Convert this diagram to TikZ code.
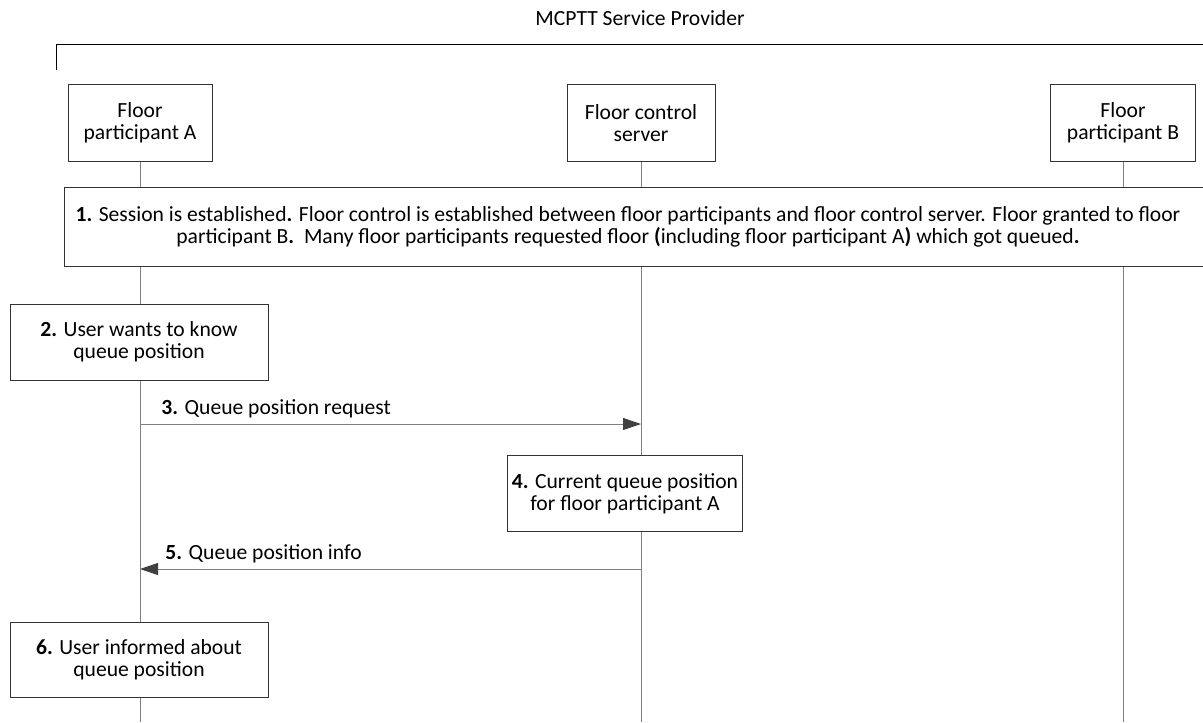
\documentclass[tikz,border=0pt]{standalone}
\usepackage{fontspec}
\setmainfont{Carlito}
\usetikzlibrary{positioning,arrows.meta,backgrounds,calc}
\definecolor{lifegray}{HTML}{808080}
\definecolor{tipgray}{HTML}{404040}
\tikzset{
  box/.style={draw=black!80, fill=white, line width=0.5pt, align=center, font=\fontsize{10.8}{11}\selectfont,
              minimum width=#1, minimum height=38pt, inner sep=2pt},
  box/.default=72pt,
  life/.style={draw=lifegray, line width=0.5pt},
  msg/.style={draw=lifegray, line width=0.5pt, -{Triangle[length=9pt,width=6pt,fill=tipgray,color=tipgray]}},
  lab/.style={font=\fontsize{10.8}{11}\selectfont, inner sep=0pt}
}
\begin{document}
\begin{tikzpicture}[x=0.5pt, y=-0.5pt]
\useasboundingbox (0,0) rectangle (1203,722);
% column x positions
\def\xa{140} \def\xb{641} \def\xc{1123}
% provider frame
\node[lab] (prov) at (640,18) {MCPTT Service Provider};
\coordinate (frl) at (56,70);
\coordinate (frt) at (56,45);
\coordinate (frr) at (1215,45);
\draw[line width=0.5pt] (frl) -- (frt) -- (frr);
% entities
\node[box=72pt] (fpa) at (\xa,123) {Floor\\participant A};
\node[box=74pt] (fcs) at (\xb,123) {Floor control\\server};
\node[box=72.5pt] (fpb) at (\xc,123) {Floor\\participant B};
% lifelines
\coordinate (enda) at (\xa,722);
\coordinate (endb) at (\xb,722);
\coordinate (endc) at (\xc,722);
\begin{scope}[on background layer]
\draw[life] (fpa.south) -- (enda);
\draw[life] (fcs.south) -- (endb);
\draw[life] (fpb.south) -- (endc);
\end{scope}
% step 1
\node[box=576pt, minimum height=39.5pt] (s1) at (640,226.5) {\textbf{1.} Session is established\textbf{.} Floor control is established between floor participants and floor control server. Floor granted to floor\hspace*{12pt}\\participant B\textbf{.}\ \ Many floor participants requested floor \textbf{(}including floor participant A\textbf{)} which got queued\textbf{.}\hspace*{12pt}};
% step 2
\node[box=129pt] (s2) at (139,342) {\textbf{2.} User wants to know\\queue position};
% step 3
\coordinate (m3a) at (\xa,424);
\coordinate (m3b) at (\xb,424);
\draw[msg] (m3a) -- (m3b);
\node[lab, anchor=south west] (l3) at (161,418) {\textbf{3.} Queue position request};
% step 4
\node[box=115pt] (s4) at (625,493.5) {\textbf{4.} Current queue position\\for floor participant A};
% step 5
\coordinate (m5a) at (\xb,569);
\coordinate (m5b) at (\xa,569);
\draw[msg] (m5a) -- (m5b);
\node[lab, anchor=south west] (l5) at (165,563) {\textbf{5.} Queue position info};
% step 6
\node[box=129pt, minimum height=37.5pt] (s6) at (139,659.5) {\textbf{6.} User informed about\\queue position};
\end{tikzpicture}
\end{document}
